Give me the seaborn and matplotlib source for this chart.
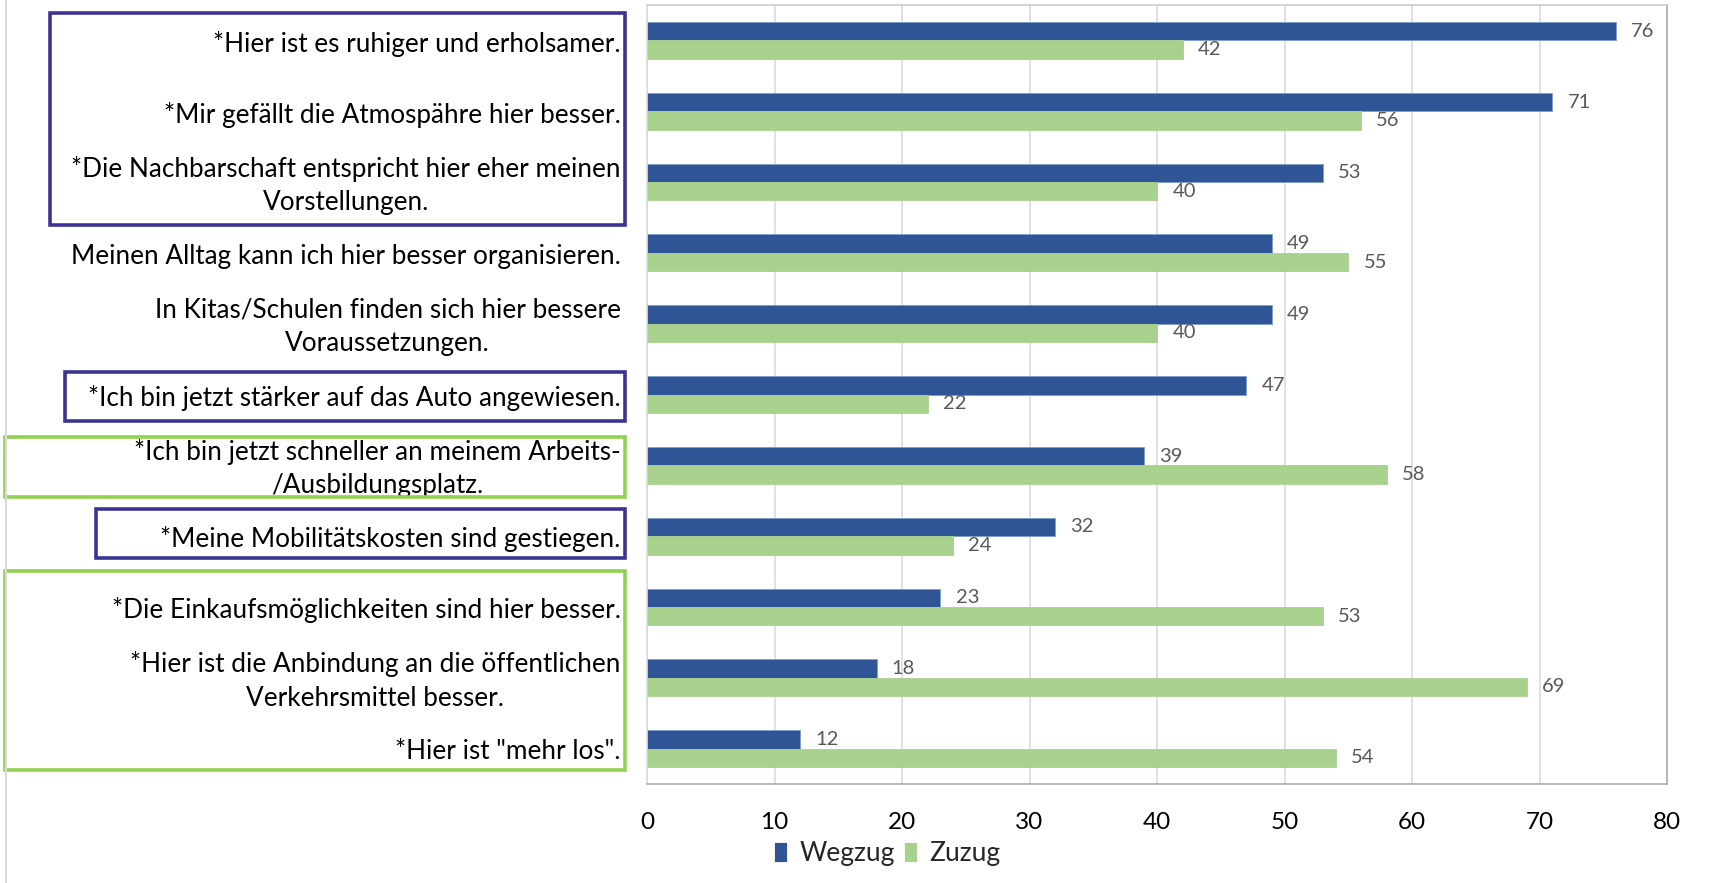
import pandas as pd
import seaborn as sns
from matplotlib import pyplot as plt
from matplotlib.patches import Rectangle
from matplotlib.lines import Line2D
from matplotlib.transforms import ScaledTranslation

# Gründe für den Umzug (von oben nach unten)
gruende = [
    '*Hier ist es ruhiger und erholsamer.',
    '*Mir gefällt die Atmospähre hier besser.',
    '*Die Nachbarschaft entspricht hier eher meinen\nVorstellungen.',
    'Meinen Alltag kann ich hier besser organisieren.',
    'In Kitas/Schulen finden sich hier bessere\nVoraussetzungen.',
    '*Ich bin jetzt stärker auf das Auto angewiesen.',
    '*Ich bin jetzt schneller an meinem Arbeits-\n/Ausbildungsplatz.',
    '*Meine Mobilitätskosten sind gestiegen.',
    '*Die Einkaufsmöglichkeiten sind hier besser.',
    '*Hier ist die Anbindung an die öffentlichen\nVerkehrsmittel besser.',
    '*Hier ist "mehr los".',
]
wegzug = [76, 71, 53, 49, 49, 47, 39, 32, 23, 18, 12]
zuzug = [42, 56, 40, 55, 40, 22, 58, 24, 53, 69, 54]
gruppen = ['Wegzug', 'Zuzug']
xticks = [0, 10, 20, 30, 40, 50, 60, 70, 80]

farben = ['#2F5597', '#A9D18E']
W, H = 1710, 883

df = pd.DataFrame({
    'grund': gruende * 2,
    'anteil': wegzug + zuzug,
    'gruppe': [gruppen[0]] * len(wegzug) + [gruppen[1]] * len(zuzug),
})

sns.set_style('white')
plt.rcParams['font.family'] = ['Lato', 'DejaVu Sans']

fig = plt.figure(figsize=(W / 100, H / 100), dpi=100)
# Plotbereich in Pixeln: x 647-1667, y 5-784
ax = fig.add_axes([647 / W, 1 - 784 / H, (1667 - 647) / W, (784 - 5) / H])

sns.barplot(data=df, y='grund', x='anteil', hue='gruppe', palette=farben,
            orient='h', width=0.52, saturation=1, ax=ax, linewidth=0.6)

# blaue Balken mit heller Kontur, grüne ohne
kanten = ['#7F9CCB', '#A9D18E']
for c, k in zip(ax.containers, kanten):
    for bar in c:
        bar.set_edgecolor(k)
    ax.bar_label(c, padding=11, fontsize=14.5, color='#595959')

ax.set_xlim(0, 80)
ax.set_xticks(xticks)
ax.set_xlabel('')
ax.set_ylabel('')
ax.grid(axis='x', color='#D9D9D9', linewidth=1.1)
ax.set_axisbelow(True)
ax.tick_params(axis='x', length=0, labelsize=17.5, pad=20, colors='#000000')
ax.tick_params(axis='y', length=0, labelsize=18.8, pad=19, colors='#000000')
# Beschriftungen etwas nach unten schieben, wie im Original
versatz = ScaledTranslation(0, -2.4 / 72, fig.dpi_scale_trans)
for lab in ax.get_yticklabels():
    lab.set_horizontalalignment('right')
    lab.set_verticalalignment('center')
    lab.set_multialignment('center')
    lab.set_linespacing(1.42)
    lab.set_transform(lab.get_transform() + versatz)

ax.spines['left'].set_color('#D9D9D9')
ax.spines['top'].set_color('#C8C8C8')
ax.spines['right'].set_color('#A6A6A6')
ax.spines['bottom'].set_color('#A6A6A6')
for s in ax.spines.values():
    s.set_linewidth(1.1)

# Legende unten
handles, labels = ax.get_legend_handles_labels()
ax.get_legend().remove()
fig.legend(handles, labels, loc='center', bbox_to_anchor=(887 / W, 1 - 854 / H),
           ncol=2, frameon=False, fontsize=19, handlelength=0.5, handleheight=0.8,
           handletextpad=0.45, columnspacing=0.35)

# Rahmen um die Gruppen von Gründen (Pixel: x0, y0, x1, y1)
boxen = [
    (50, 13, 625, 225, '#3B3494'),
    (65, 372, 625, 421, '#3B3494'),
    (5, 437, 625, 497, '#92D050'),
    (96, 509, 625, 558, '#3B3494'),
    (5, 571, 625, 770, '#92D050'),
]
for x0, y0, x1, y1, col in boxen:
    fig.patches.append(Rectangle((x0 / W, 1 - y1 / H), (x1 - x0) / W, (y1 - y0) / H,
                                 transform=fig.transFigure, fill=False,
                                 edgecolor=col, linewidth=2.6))

fig.lines.append(Line2D([6 / W, 6 / W], [0, 1], transform=fig.transFigure,
                        color='#D9D9D9', linewidth=1.5))

fig.savefig('out.png', dpi=100)
